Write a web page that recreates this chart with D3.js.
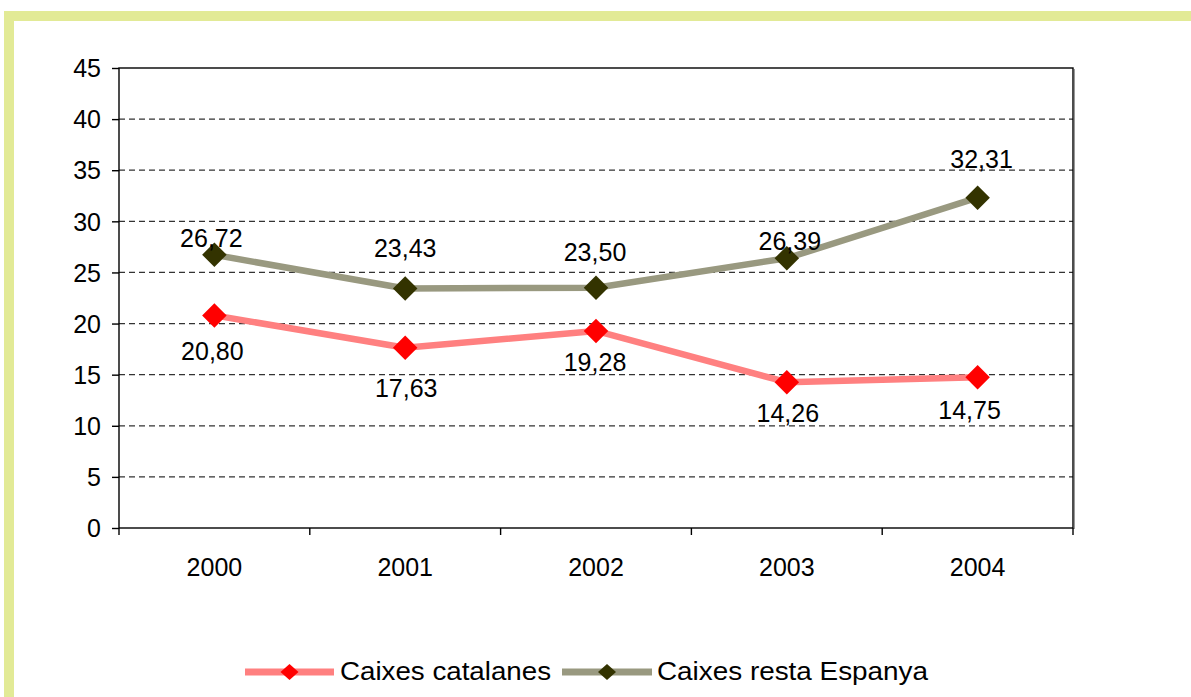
<!DOCTYPE html>
<html><head><meta charset="utf-8">
<script src="https://cdn.jsdelivr.net/npm/d3@7"></script>
<style>body{margin:0;background:#fff;}svg{display:block;font-family:"Liberation Sans",Arial,sans-serif;}</style>
</head><body>
<svg id="c" width="1191" height="697"></svg>
<script>
const years = ["2000","2001","2002","2003","2004"];
const catalanes = [20.80, 17.63, 19.28, 14.26, 14.75];
const restaEspanya = [26.72, 23.43, 23.50, 26.39, 32.31];
const yTicks = [0,5,10,15,20,25,30,35,40,45];
const seriesNames = ["Caixes catalanes","Caixes resta Espanya"];
// label placement tweaks (pixels)
const catLabelDy = [45, 49, 40, 40, 42];
const catLabelDx = [-2, 1, -1, 1, -8];
const resLabelDy = [-8, -31, -27, -8, -30];
const resLabelDx = [-3, 0, -1, 3, 4];

const svg = d3.select("#c");
const fmt = v => v.toFixed(2).replace(".", ",");
const FS = 25;

// frame band
svg.append("rect").attr("x",4).attr("y",11).attr("width",1187).attr("height",10).attr("fill","#e2ea96");
svg.append("rect").attr("x",4).attr("y",11).attr("width",10).attr("height",686).attr("fill","#e2ea96");

const L=119, R=1073, T=68, B=528;
const x = d3.scaleBand().domain(years).range([L,R]);
const y = d3.scaleLinear().domain([0,45]).range([B,T]);

// gridlines
svg.append("g").selectAll("line").data(yTicks.filter(d=>d>0 && d<45)).join("line")
  .attr("x1",L).attr("x2",R).attr("y1",d=>y(d)).attr("y2",d=>y(d))
  .attr("stroke","#333").attr("stroke-width",1.2).attr("stroke-dasharray","6,4");

// plot frame
svg.append("rect").attr("x",L).attr("y",T).attr("width",R-L).attr("height",B-T)
  .attr("fill","none").attr("stroke","#000").attr("stroke-width",1.4);
svg.append("line").attr("x1",R+1.5).attr("x2",R+1.5).attr("y1",T+1).attr("y2",B+1).attr("stroke","#999").attr("stroke-width",1);

// y axis
const yAxis = d3.axisLeft(y).tickValues(yTicks).tickSize(7).tickPadding(11).tickFormat(d3.format("d"));
const gy = svg.append("g").attr("transform",`translate(${L},0)`).call(yAxis);
gy.select(".domain").remove();
gy.selectAll("line").attr("stroke","#000").attr("stroke-width",1.4);
gy.selectAll("text").attr("font-size",FS).attr("fill","#000").attr("dy","0.35em").attr("font-family","Liberation Sans, Arial, sans-serif");

// x axis: ticks at band boundaries
const bounds = years.map(d=>x(d)).concat([R]);
svg.append("g").selectAll("line").data(bounds).join("line")
  .attr("x1",d=>d).attr("x2",d=>d).attr("y1",B).attr("y2",B+7)
  .attr("stroke","#000").attr("stroke-width",1.4);
svg.append("g").selectAll("text").data(years).join("text")
  .attr("x",d=>x(d)+x.bandwidth()/2).attr("y",576)
  .attr("text-anchor","middle").attr("font-size",FS).attr("fill","#000").text(d=>d);

const cx = (d,i)=>x(years[i])+x.bandwidth()/2;

function drawSeries(vals, lineColor, markerColor, dys, dxs){
  const line = d3.line().x((d,i)=>cx(d,i)).y(d=>y(d));
  svg.append("path").datum(vals).attr("d",line).attr("fill","none")
    .attr("stroke",lineColor).attr("stroke-width",6.5).attr("stroke-linejoin","round");
  svg.append("g").selectAll("path").data(vals).join("path")
    .attr("d", d3.symbol().type(d3.symbolSquare).size(300))
    .attr("transform",(d,i)=>`translate(${cx(d,i)},${y(d)}) rotate(45)`)
    .attr("fill",markerColor);
  svg.append("g").selectAll("text").data(vals).join("text")
    .attr("x",(d,i)=>cx(d,i)+dxs[i]).attr("y",(d,i)=>y(d)+dys[i])
    .attr("text-anchor","middle").attr("font-size",FS).attr("fill","#000").text(d=>fmt(d));
}
drawSeries(restaEspanya, "#999980", "#333300", resLabelDy, resLabelDx);
drawSeries(catalanes, "#ff8080", "#ff0000", catLabelDy, catLabelDx);

// legend
const legend = [
  {name: seriesNames[0], line:"#ff8080", mark:"#ff0000", x1:245, x2:334, tx:340, tw:211},
  {name: seriesNames[1], line:"#999980", mark:"#333300", x1:562, x2:652, tx:657, tw:271}
];
const lg = svg.append("g");
legend.forEach(l=>{
  lg.append("line").attr("x1",l.x1).attr("x2",l.x2).attr("y1",672).attr("y2",672)
    .attr("stroke",l.line).attr("stroke-width",7);
  lg.append("path").attr("d","M0,-8L9,0L0,8L-9,0Z")
    .attr("transform",`translate(${(l.x1+l.x2)/2},672)`).attr("fill",l.mark);
  lg.append("text").attr("x",l.tx).attr("y",680).attr("font-size",26.5)
    .attr("textLength",l.tw).attr("lengthAdjust","spacingAndGlyphs").attr("fill","#000").text(l.name);
});
</script>
</body></html>
